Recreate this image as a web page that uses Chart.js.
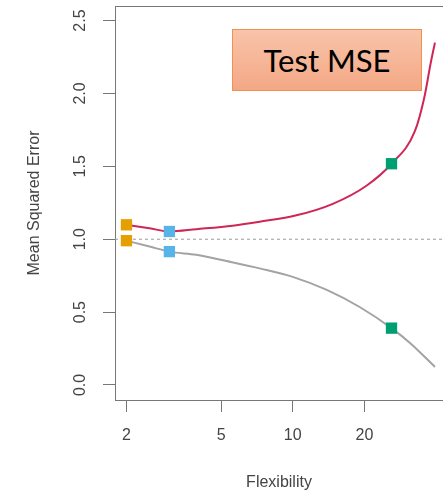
<!DOCTYPE html>
<html>
<head>
<meta charset="utf-8">
<script src="https://cdn.jsdelivr.net/npm/chart.js@4.4.1/dist/chart.umd.min.js"></script>
<style>
  html, body { margin: 0; padding: 0; background: #fff; }
  #wrap { position: relative; width: 443px; height: 492px; }
  #label {
    position: absolute; left: 232px; top: 29px; width: 188px; height: 60px;
    border: 1.5px solid #f0914f;
    background: linear-gradient(#f8c4aa, #f4a885);
    font-family: Lato, "Open Sans", sans-serif; font-size: 31px; color: #000;
    display: flex; align-items: center; justify-content: center;
  }
</style>
</head>
<body>
<div id="wrap">
  <canvas id="chart" width="443" height="492"></canvas>
  <div id="label">Test MSE</div>
</div>
<script>
const xTicks = [2, 5, 10, 20];
const yTicks = [0, 0.5, 1.0, 1.5, 2.0, 2.5];

const testX = [2, 2.5, 3.03, 3.93, 5.59, 7.26, 10.36, 14.74, 20.4, 26.0, 32.6, 35.7, 38.0, 39.6];
const testY = [1.099, 1.075, 1.053, 1.069, 1.093, 1.12, 1.164, 1.243, 1.367, 1.518, 1.741, 1.971, 2.209, 2.349];

const trainX = [2, 2.5, 3.03, 3.93, 5.27, 7.26, 10.0, 13.9, 19.1, 26.0, 31.1, 39.6];
const trainY = [0.99, 0.95, 0.915, 0.893, 0.85, 0.80, 0.742, 0.652, 0.535, 0.39, 0.288, 0.124];

// highlighted fits: orange, blue, green
const markX = [2, 3.03, 26.0];
const markTest = [1.099, 1.053, 1.518];
const markTrain = [0.99, 0.915, 0.39];
const markColors = ['#E69F00', '#56B4E9', '#009E73'];

const refLevel = 1.0;
const xMin = 1.79, xMax = 42.8;
const yMin = -0.103, yMax = 2.6;

const pts = (xs, ys) => xs.map((x, i) => ({ x: x, y: ys[i] }));

const topLine = {
    id: 'topLine',
    afterDraw(chart) {
        const a = chart.chartArea, c = chart.ctx;
        c.save();
        c.strokeStyle = '#777';
        c.lineWidth = 1;
        c.beginPath();
        c.moveTo(a.left, a.top + 0.5);
        c.lineTo(a.right, a.top + 0.5);
        c.stroke();
        c.restore();
    }
};

const axisColor = '#777';
const textColor = '#444';
const font = { family: 'Liberation Sans, Arial, sans-serif', size: 16 };

new Chart(document.getElementById('chart').getContext('2d'), {
    type: 'scatter',
    data: {
        datasets: [
            {
                data: pts(markX, markTest).concat(pts(markX, markTrain)),
                pointStyle: 'rect',
                pointRadius: 8,
                backgroundColor: markColors.concat(markColors),
                borderColor: markColors.concat(markColors),
                borderWidth: 0,
                order: 0
            },
            {
                data: pts(testX, testY),
                showLine: true,
                borderColor: '#d02656',
                borderWidth: 2,
                pointRadius: 0,
                cubicInterpolationMode: 'monotone',
                order: 1
            },
            {
                data: pts(trainX, trainY),
                showLine: true,
                borderColor: '#a3a3a3',
                borderWidth: 2,
                pointRadius: 0,
                cubicInterpolationMode: 'monotone',
                order: 1
            },
            {
                data: [{ x: xMin, y: refLevel }, { x: xMax, y: refLevel }],
                showLine: true,
                borderColor: '#999',
                borderWidth: 1,
                borderDash: [3, 3],
                pointRadius: 0,
                order: 2
            }
        ]
    },
    options: {
        responsive: false,
        animation: false,
        events: [],
        layout: { autoPadding: false, padding: { top: 6, right: 0, left: 0, bottom: 0 } },
        plugins: { legend: { display: false }, tooltip: { enabled: false } },
        scales: {
            x: {
                type: 'logarithmic',
                min: xMin,
                max: xMax,
                afterBuildTicks: s => { s.ticks = xTicks.map(v => ({ value: v })); },
                afterFit: s => { s.height = 92; s.paddingLeft = 0; s.paddingRight = 0; },
                ticks: { autoSkip: false, maxRotation: 0, padding: 14, color: textColor, font: font, callback: v => String(v) },
                grid: { display: true, drawOnChartArea: false, drawTicks: true, tickLength: 12, color: axisColor },
                border: { display: true, color: axisColor },
                title: { display: true, text: 'Flexibility', color: textColor, font: font, padding: { top: 0, bottom: 0 } }
            },
            y: {
                min: yMin,
                max: yMax,
                afterBuildTicks: s => { s.ticks = yTicks.map(v => ({ value: v })); },
                afterFit: s => { s.width = 115; s.paddingTop = 0; s.paddingBottom = 0; },
                ticks: { minRotation: 90, maxRotation: 90, crossAlign: 'center', padding: 11, color: textColor, font: font, callback: v => v.toFixed(1) },
                grid: { display: true, drawOnChartArea: false, drawTicks: true, tickLength: 12, color: axisColor },
                border: { display: true, color: axisColor },
                title: { display: true, text: 'Mean Squared Error', color: textColor, font: font, padding: { top: 25, bottom: 0 } }
            }
        }
    },
    plugins: [topLine]
});
</script>
</body>
</html>
